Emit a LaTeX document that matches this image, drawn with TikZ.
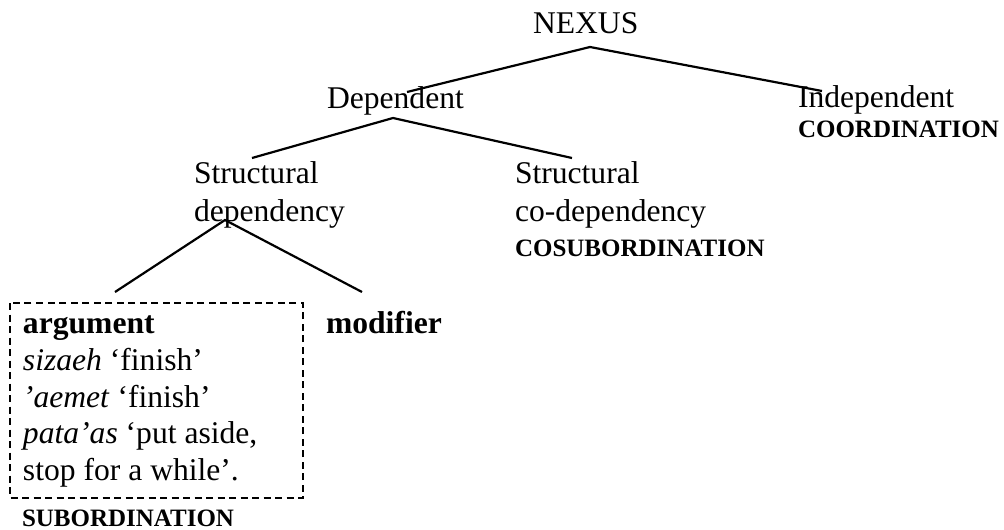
\documentclass[tikz,border=0pt]{standalone}
\usepackage{fontspec}
\setmainfont{Liberation Serif}
\begin{document}
\begin{tikzpicture}[x=1pt,y=-1pt,
  lbl/.style={anchor=base west,inner sep=0pt,outer sep=0pt,
    font=\fontsize{31.6}{37}\selectfont,align=left},
  tag/.style={anchor=base west,inner sep=0pt,outer sep=0pt,
    font=\fontsize{25}{30}\selectfont\bfseries},
  branch/.style={line width=2.2pt},
  framebox/.style={draw,line width=1.5pt,dash pattern=on 7pt off 4.5pt}]
\useasboundingbox (0,0) rectangle (1004,530);

% labels
\node[lbl] (nexus) at (533,33) {NEXUS};
\node[lbl] (dep) at (327,108) {Dependent};
\node[lbl] (indep) at (798,107) {Independent};
\node[tag] (coord) at (798,137) {COORDINATION};
\node[lbl] (sd1) at (194,183) {Structural};
\node[lbl] (sd2) at (194,221) {dependency};
\node[lbl] (scd1) at (515,183) {Structural};
\node[lbl] (scd2) at (515,221) {co-dependency};
\node[tag] (cosub) at (515,256) {COSUBORDINATION};
\node[lbl] (arg) at (23,333) {\textbf{argument}};
\node[lbl] (ex1) at (23,370) {\textit{sizaeh} ‘finish’};
\node[lbl] (ex2) at (23,407) {\textit{’aemet} ‘finish’};
\node[lbl] (ex3) at (23,443) {\textit{pata’as} ‘put aside,};
\node[lbl] (ex4) at (23,480) {stop for a while’.};
\node[lbl] (mod) at (326,333) {\textbf{modifier}};
\node[tag] (sub) at (22,526) {SUBORDINATION};

% branch points
\coordinate (nexusTop) at (590,47);
\coordinate (depEnd) at (407,92);
\coordinate (indepEnd) at (822,91);
\coordinate (depTop) at (393,118);
\coordinate (sdEnd) at (252,158);
\coordinate (scdEnd) at (572,158);
\coordinate (sdTop) at (225,220);
\coordinate (argEnd) at (115,292);
\coordinate (modEnd) at (362,292);

\draw[branch] (depEnd) -- (nexusTop) -- (indepEnd);
\draw[branch] (sdEnd) -- (depTop) -- (scdEnd);
\draw[branch] (argEnd) -- (sdTop) -- (modEnd);

% frame round the argument examples
\coordinate (boxNW) at (10,303);
\coordinate (boxSE) at (303,498);
\draw[framebox] (boxNW) rectangle (boxSE);
\end{tikzpicture}
\end{document}
